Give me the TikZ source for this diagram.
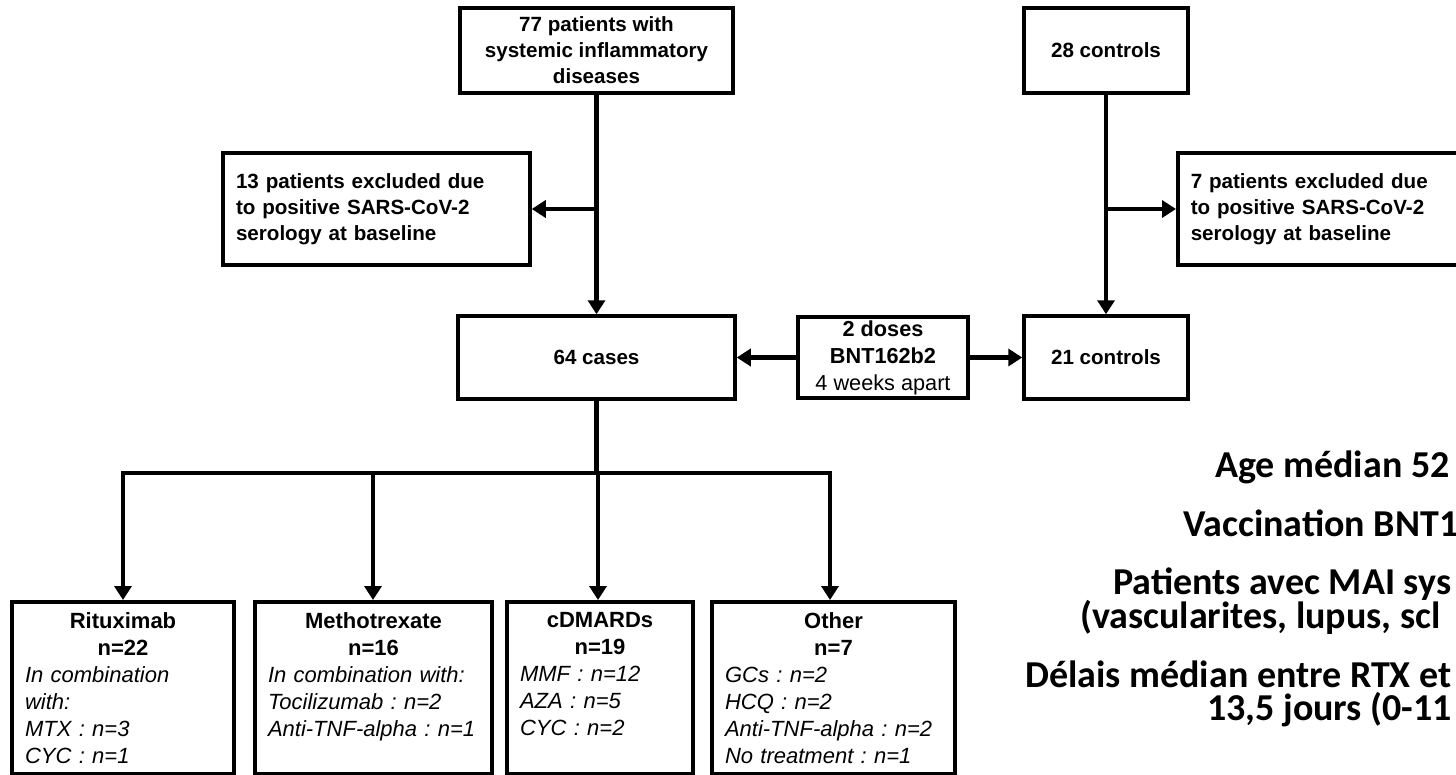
\documentclass[tikz,border=0pt]{standalone}
\usepackage{fontspec}
\setmainfont{Liberation Sans}
\newfontfamily\calibfont{Carlito}
\usetikzlibrary{arrows.meta}
\newcommand{\boxfont}{\fontsize{20.6}{26}\selectfont\bfseries}
\newcommand{\dosefont}{\fontsize{21.7}{27}\selectfont\bfseries}
\newcommand{\drugfont}{\fontsize{22}{27}\selectfont}
\newcommand{\notefont}{\fontsize{38}{33}\selectfont\calibfont\bfseries}
\tikzstyle{box} = [
    rectangle,
    draw=black,
    line width=3.5pt,
    align=center,
    inner sep=0pt,
    font=\boxfont
]
\tikzstyle{excluded} = [
    rectangle,
    draw=black,
    line width=3.5pt,
    align=left,
    text width=281pt,
    minimum height=112pt,
    inner xsep=13pt,
    font=\boxfont
]
\tikzstyle{drug} = [
    rectangle,
    draw=black,
    line width=3.5pt,
    anchor=north,
    align=left,
    minimum height=172pt,
    inner xsep=13pt,
    font=\drugfont
]
\tikzstyle{note} = [anchor=base west, inner sep=0pt, font=\notefont]
\tikzstyle{line} = [line width=4.5pt, line cap=rect]
\tikzstyle{arrow} = [line width=4.5pt,->,>={Triangle[length=14pt,width=17pt]}]

\begin{document}
\frenchspacing
\begin{tikzpicture}[x=1pt,y=-1pt]
\useasboundingbox (0,0) rectangle (1456,774);

\node (patients) [box, minimum width=273pt, minimum height=85pt] at (596.5,50.5)
{77 patients with\\systemic inflammatory\\diseases};

\node (controls) [box, minimum width=164pt, minimum height=85pt] at (1106,50.5)
{28 controls};

\node (exclpat) [excluded] at (376.5,209)
{13 patients excluded due\\to positive SARS-CoV-2\\serology at baseline};

\node (exclctl) [excluded, anchor=west] at (1176,209)
{7 patients excluded due\\to positive SARS-CoV-2\\serology at baseline};

\node (cases) [box, minimum width=277pt, minimum height=83pt] at (596.5,357.5)
{64 cases};

\node (doses) [box, font=\dosefont, minimum width=170pt, minimum height=81pt] at (883,357.5)
{2 doses\\BNT162b2\\{\mdseries 4 weeks apart}};

\node (controls2) [box, minimum width=164pt, minimum height=83pt] at (1106,357.5)
{21 controls};

\coordinate (split) at (596.5,473);

\node (rtx) [drug, text width=196pt] at (123,600)
{{\centering\bfseries Rituximab\\n=22\par}\itshape In combination\\with:\\MTX : n=3\\CYC : n=1};

\node (mtx) [drug, text width=211pt] at (373.5,600)
{{\centering\bfseries Methotrexate\\n=16\par}\itshape In combination with:\\Tocilizumab : n=2\\Anti-TNF-alpha : n=1\\\mbox{}};

\node (cdmards) [drug, text width=160pt] at (600,600)
{{\centering\bfseries cDMARDs\\n=19\par}\itshape MMF : n=12\\AZA : n=5\\CYC : n=2\\\mbox{}};

\node (other) [drug, text width=217pt] at (833.5,600)
{{\centering\bfseries Other\\n=7\par}\itshape GCs : n=2\\HCQ : n=2\\Anti-TNF-alpha : n=2\\No treatment : n=1};

\draw [arrow] (patients) -- (cases);
\draw [arrow] (patients.south |- exclpat.east) -- (exclpat.east);
\draw [arrow] (controls) -- (controls2);
\draw [arrow] (controls.south |- exclctl.west) -- (exclctl.west);
\draw [arrow] (doses) -- (cases);
\draw [arrow] (doses) -- (controls2);

\draw [line] (cases) -- (split);
\draw [line] (rtx.north |- split) -- (830,473);
\foreach \drugname/\xpos in {rtx/123, mtx/373, cdmards/598, other/830}
    \draw [arrow] (\xpos,473) -- (\xpos,600);

\node (age) [note] at (1215,477) {Age médian 52};
\node (vacc) [note] at (1183,536) {Vaccination BNT1};
\node (mai) [note] at (1113,594) {Patients avec MAI sys};
\node (mai2) [note] at (1080,628) {(vascularites, lupus, scl};
\node (delay) [note] at (1025,687) {Délais médian entre RTX et};
\node (delay2) [note] at (1207,720) {13,5 jours (0-11};

\end{tikzpicture}
\end{document}
